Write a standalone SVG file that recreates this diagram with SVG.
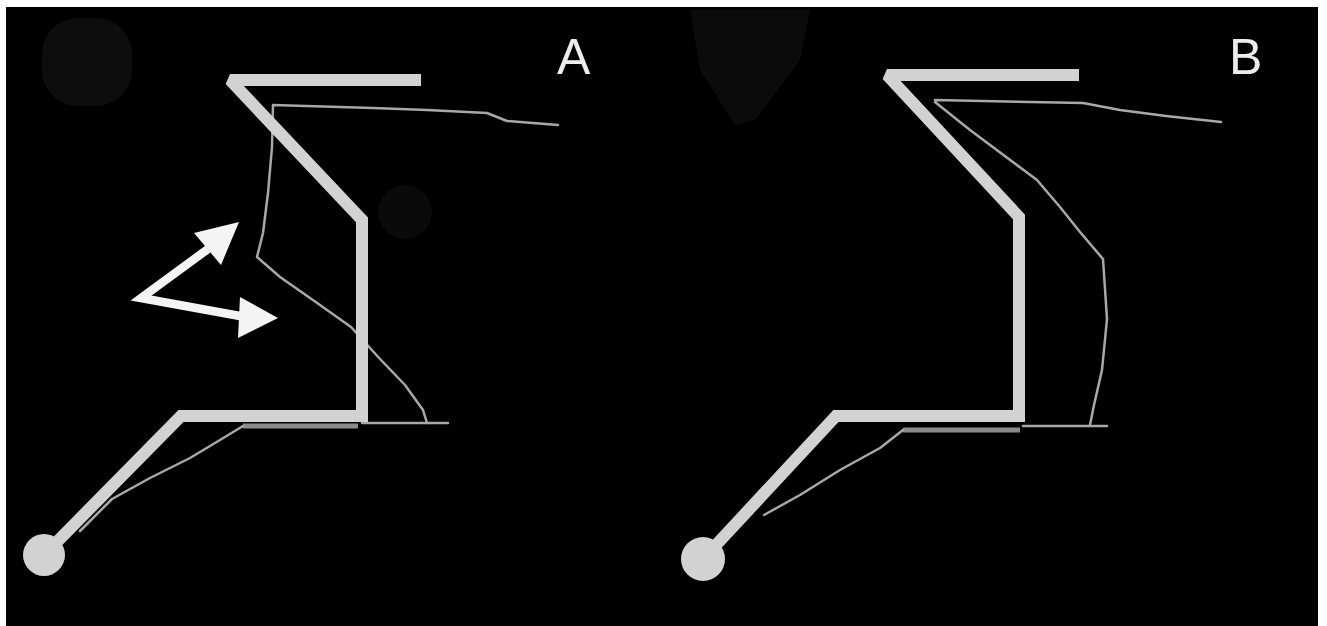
<svg xmlns="http://www.w3.org/2000/svg" width="1327" height="626" viewBox="0 0 1327 626">
<style>
.bg{fill:#000}
.blob{fill:#0d0d0d}
.thick{fill:none;stroke:#d2d2d2;stroke-width:12;stroke-linejoin:miter;stroke-miterlimit:2;stroke-linecap:butt}
.thin{fill:none;stroke:#a8a8a8;stroke-width:2.5;stroke-linejoin:round;stroke-linecap:round}
.band{fill:none;stroke:#8a8a8a;stroke-width:5}
.dot{fill:#d2d2d2}
.arrow{fill:none;stroke:#f4f4f4;stroke-width:8.5;stroke-linejoin:miter}
.head{fill:#f4f4f4}
.lbl{font-family:"Liberation Sans",Arial,sans-serif;font-size:50px;fill:#ececec;font-weight:normal}
</style>
<rect x="0" y="0" width="1327" height="626" fill="#ffffff"/>
<rect class="bg" x="6" y="7" width="1312" height="619"/>

<g id="panel-A">
  <rect class="blob" x="42" y="18" width="90" height="88" rx="36"/>
  <circle class="blob" cx="405" cy="212" r="27" style="fill:#0a0a0a"/>
  <path class="band" d="M243 426 L358 426"/>
  <path class="thin" d="M80 531 L112 499 L150 478 L190 458 L220 440 L243 426 M362 423 L448 423"/>
  <path class="thin" d="M558 125 L507 121 L487 113 L427 110 L373 108 L273 105 L272 147 L268 193 L263 233 L257 257 L280 277 L320 305 L351 327 L380 359 L405 385 L423 410 L427 423"/>
  <path class="thick" d="M421 80 L230 80 L362 220 L362 416 L181 416 L44 555"/>
  <circle class="dot" cx="44" cy="555" r="21"/>
  <g id="arrows-A">
    <path class="arrow" d="M208 249 L141 298 L240 316"/>
    <polygon class="head" points="239,222 194,233 221,265"/>
    <polygon class="head" points="278,318 240,297 238,338"/>
  </g>
  <text class="lbl" x="557" y="74">A</text>
</g>

<g id="panel-B">
  <path class="blob" d="M690 10 L810 10 L800 60 L755 120 L735 125 L700 70 Z" style="fill:#0b0b0b"/>
  <path class="band" d="M903 430 L1020 430"/>
  <path class="thin" d="M764 515 L800 495 L840 470 L880 448 L903 430 M1023 426 L1107 426"/>
  <path class="thin" d="M1221 122 L1166 116 L1120 110 L1083 103 L935 100 M935 102 L970 130 L1037 180 L1060 207 L1080 232 L1103 259 L1107 319 L1102 370 L1094 405 L1090 425"/>
  <path class="thick" d="M1079 75 L887 75 L1019 217 L1019 416 L836 416 L703 559"/>
  <circle class="dot" cx="703" cy="559" r="22"/>
  <text class="lbl" x="1229" y="74">B</text>
</g>
</svg>
